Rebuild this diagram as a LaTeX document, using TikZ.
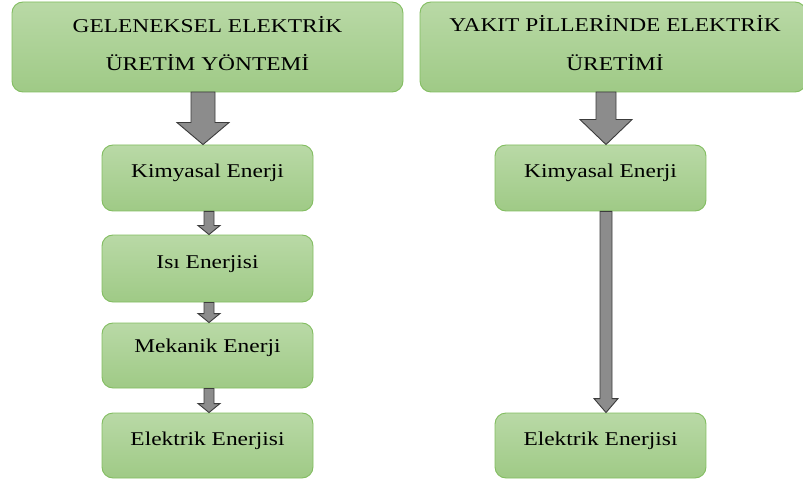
\documentclass[tikz,border=0pt]{standalone}
\usepackage{fontspec}
\setmainfont{Liberation Serif}
\usetikzlibrary{calc}
\definecolor{boxtop}{HTML}{B9D9A6}
\definecolor{boxbot}{HTML}{9FCA86}
\definecolor{boxline}{HTML}{82BD60}
\definecolor{arrfill}{HTML}{8C8C8C}
\definecolor{arrline}{HTML}{3C3C3C}
\newcommand{\sx}[1]{\scalebox{1.2}[1]{#1}}
\newcommand{\blockarrow}[6]{% from, to, shaft half width, head half width, head length, x centre
  \path[arrowstyle] let \p1=(#1), \p2=(#2) in
    (#6-#3, \y1) -- (#6+#3, \y1) -- (#6+#3, \y2+#5) -- (#6+#4, \y2+#5) --
    (#6, \y2) -- (#6-#4, \y2+#5) -- (#6-#3, \y2+#5) -- cycle;}
\tikzset{
  gbox/.style={draw=boxline, line width=0.9pt, rounded corners=11pt,
    top color=boxtop, bottom color=boxbot, inner sep=0pt},
  arrowstyle/.style={fill=arrfill, draw=arrline, line width=0.9pt, line join=miter},
  lbl/.style={font=\fontsize{19.5}{38}\selectfont, inner sep=0pt, anchor=base},
}
\begin{document}
\begin{tikzpicture}[x=1pt, y=-1pt]
\useasboundingbox (0,0) rectangle (803,481);
% header boxes
\path[gbox] (12,2) rectangle (403,92);
\node[coordinate] (h1) at (207.5,92) {};
\node[lbl] (h1a) at (207.5,33) {\sx{GELENEKSEL ELEKTRİK}};
\node[lbl] (h1b) at (207.5,71) {\sx{ÜRETİM YÖNTEMİ}};
\path[gbox] (420,2) rectangle (806,92);
\node[coordinate] (h2) at (613,92) {};
\node[lbl] (h2a) at (615,32) {\sx{YAKIT PİLLERİNDE ELEKTRİK}};
\node[lbl] (h2b) at (615,71) {\sx{ÜRETİMİ}};
% left column
\node[gbox, minimum width=211pt, minimum height=66pt] (k1) at (207.5,178) {};
\node[lbl] at (k1.center) {\sx{Kimyasal Enerji}};
\node[gbox, minimum width=211pt, minimum height=67pt] (i1) at (207.5,268.5) {};
\node[lbl] at (i1.center) {\sx{Isı Enerjisi}};
\node[gbox, minimum width=211pt, minimum height=65pt] (m1) at (207.5,355.5) {};
\node[lbl] at ($(m1.center)+(0,-3)$) {\sx{Mekanik Enerji}};
\node[gbox, minimum width=211pt, minimum height=65pt] (e1) at (207.5,445.5) {};
\node[lbl] at (e1.center) {\sx{Elektrik Enerjisi}};
% right column
\node[gbox, minimum width=211pt, minimum height=66pt] (k2) at (600.5,178) {};
\node[lbl] at (k2.center) {\sx{Kimyasal Enerji}};
\node[gbox, minimum width=211pt, minimum height=65pt] (e2) at (600.5,445.5) {};
\node[lbl] at (e2.center) {\sx{Elektrik Enerjisi}};
% arrows
\blockarrow{h1}{k1.north}{12}{26}{22}{203}
\blockarrow{h2}{k2.north}{10}{26}{25}{606}
\blockarrow{k1.south}{i1.north}{5}{11}{9}{209}
\blockarrow{i1.south}{m1.north}{5}{11}{9}{209}
\blockarrow{m1.south}{e1.north}{5}{11}{9}{209}
\blockarrow{k2.south}{e2.north}{6}{12}{14}{606}
\end{tikzpicture}
\end{document}
